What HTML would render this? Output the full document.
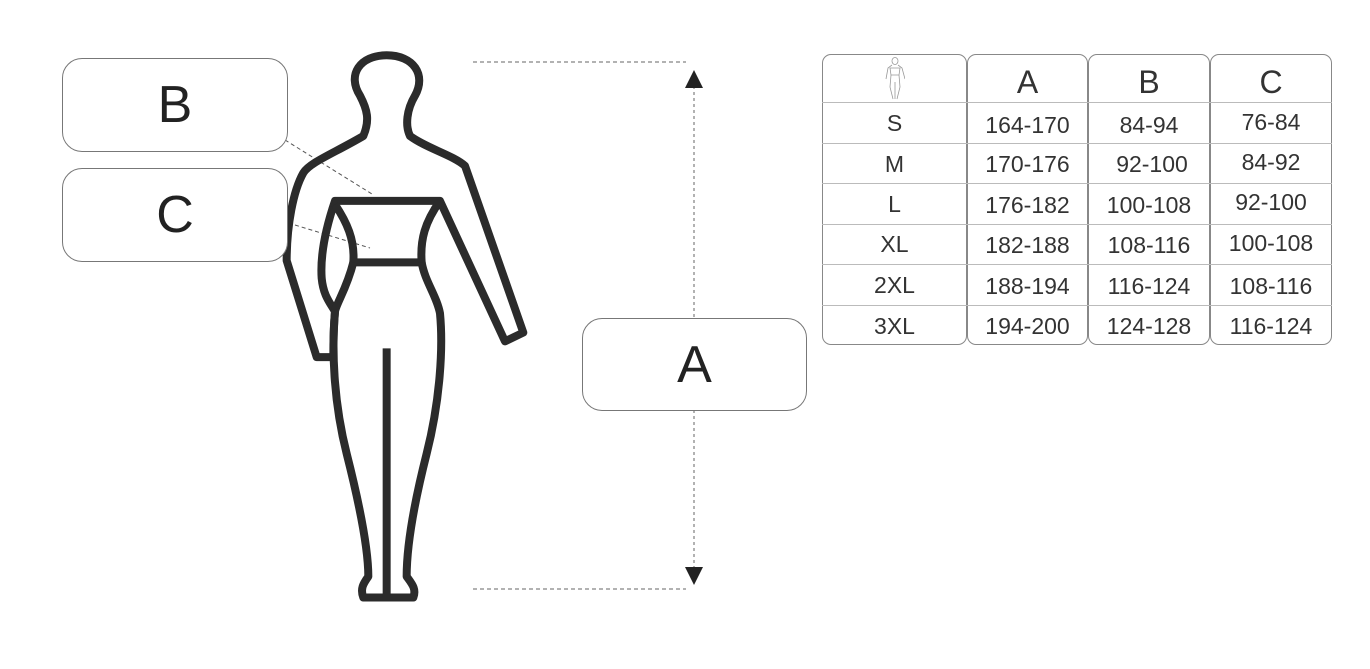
<!DOCTYPE html>
<html><head><style>
body{margin:0;width:1370px;height:669px;background:#fff;overflow:hidden;font-family:"Liberation Sans",sans-serif;color:#222}
.box{position:absolute;border:1px solid #777;border-radius:20px;background:#fff;display:flex;align-items:center;justify-content:center;font-size:52px;color:#222}
.col{position:absolute;top:54px;height:291px;border:1px solid #888;border-radius:9px;box-sizing:border-box}
.cell{position:absolute;font-size:23px;color:#333;text-align:center;width:100%}
.hl{position:absolute;height:1px;background:#bbb;left:822px;width:510px}
</style></head><body>
<svg width="1370" height="669" style="position:absolute;left:0;top:0">
<line x1="473" y1="62" x2="686" y2="62" stroke="#666" stroke-dasharray="4,3"/>
<line x1="473" y1="589" x2="686" y2="589" stroke="#666" stroke-dasharray="4,3"/>
<line x1="694" y1="86" x2="694" y2="570" stroke="#666" stroke-dasharray="3,3"/>
<polygon points="694,70 685,88 703,88" fill="#222"/>
<polygon points="694,585 685,567 703,567" fill="#222"/>
<line x1="285" y1="140" x2="372" y2="194" stroke="#555" stroke-dasharray="4,3"/>
<line x1="295" y1="225" x2="370" y2="248" stroke="#555" stroke-dasharray="4,3"/>
<g transform="translate(280,50) scale(0.3333,0.351)" fill="none" stroke="#2b2b2b" stroke-width="8" stroke-linejoin="round">
<path vector-effect="non-scaling-stroke" d="M250,245 C270,200 262,170 240,130 C200,70 240,15 320,15 C400,15 440,70 405,130 C380,170 375,215 390,245 C440,280 520,300 555,330 L730,805 L675,830 L480,430 L165,430 C140,500 120,580 125,650 C130,700 150,720 165,745 C160,800 160,850 160,875 L110,875 L20,600 C20,500 40,400 70,350 C90,320 160,295 250,245 Z"/>
<path vector-effect="non-scaling-stroke" d="M165,440 C200,490 225,540 220,605 L425,605 C420,540 435,490 480,430"/>
<path vector-effect="non-scaling-stroke" d="M220,605 C200,680 170,720 165,745 C155,850 160,1000 200,1150 C240,1300 265,1420 265,1500 C250,1520 240,1535 250,1560 L400,1560 C410,1535 395,1520 380,1500 C380,1420 400,1300 440,1150 C480,1000 490,850 480,750 C470,700 435,660 425,605"/>
<path vector-effect="non-scaling-stroke" d="M320,850 L320,1560"/>
</g>
</svg>
<div class="box" style="left:62px;top:58px;width:224px;height:92px">B</div>
<div class="box" style="left:62px;top:168px;width:224px;height:92px">C</div>
<div class="box" style="left:582px;top:318px;width:223px;height:91px">A</div>

<div class="col" style="left:822px;width:145px"></div>
<div class="col" style="left:967px;width:121px"></div>
<div class="col" style="left:1088px;width:122px"></div>
<div class="col" style="left:1210px;width:122px"></div>
<div class="hl" style="top:102px"></div>
<div class="hl" style="top:143px"></div>
<div class="hl" style="top:183px"></div>
<div class="hl" style="top:224px"></div>
<div class="hl" style="top:264px"></div>
<div class="hl" style="top:305px"></div>

<svg width="20" height="44" style="position:absolute;left:885px;top:57px" viewBox="0 0 20 44" fill="none" stroke="#999" stroke-width="0.8">
<ellipse cx="10" cy="4" rx="3" ry="3.5"/><path d="M7,8 L3,11 L1,22 M13,8 L17,11 L20,22 M5,11 L15,11 L14,18 L6,18 Z M6,18 L5,30 L8,42 M14,18 L15,30 L12,42 M10,25 L10,42"/>
</svg>
<div style="position:absolute;left:822px;top:0;width:145px">
<div class="cell" style="top:110px">S</div><div class="cell" style="top:151px">M</div><div class="cell" style="top:191px">L</div><div class="cell" style="top:231px">XL</div><div class="cell" style="top:272px">2XL</div><div class="cell" style="top:313px">3XL</div></div>
<div style="position:absolute;left:967px;top:0;width:121px">
<div class="cell" style="top:64px;font-size:32px">A</div>
<div class="cell" style="top:112px">164-170</div><div class="cell" style="top:151px">170-176</div><div class="cell" style="top:192px">176-182</div><div class="cell" style="top:232px">182-188</div><div class="cell" style="top:273px">188-194</div><div class="cell" style="top:313px">194-200</div></div>
<div style="position:absolute;left:1088px;top:0;width:122px">
<div class="cell" style="top:64px;font-size:32px">B</div>
<div class="cell" style="top:112px">84-94</div><div class="cell" style="top:151px;left:3px">92-100</div><div class="cell" style="top:192px">100-108</div><div class="cell" style="top:232px">108-116</div><div class="cell" style="top:273px">116-124</div><div class="cell" style="top:313px">124-128</div></div>
<div style="position:absolute;left:1210px;top:0;width:122px">
<div class="cell" style="top:64px;font-size:32px">C</div>
<div class="cell" style="top:109px">76-84</div><div class="cell" style="top:149px">84-92</div><div class="cell" style="top:189px">92-100</div><div class="cell" style="top:230px">100-108</div><div class="cell" style="top:273px">108-116</div><div class="cell" style="top:313px">116-124</div></div>
</body></html>
